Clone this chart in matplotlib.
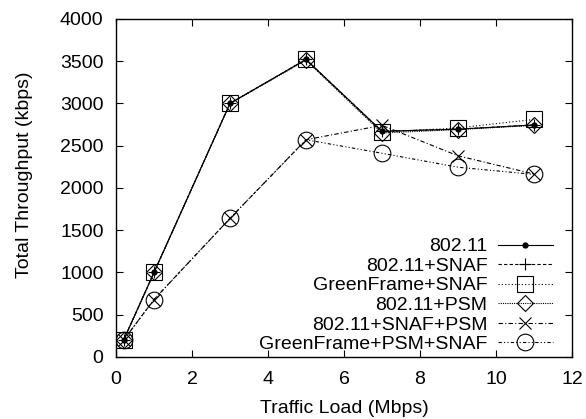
import numpy as np
import matplotlib
matplotlib.use('Agg')
import matplotlib.pyplot as plt

plt.rcParams['font.family'] = ['Liberation Sans', 'DejaVu Sans']
plt.rcParams['font.size'] = 14

# data
load = [0.2, 1, 3, 5, 7, 9, 11]
thr_80211 = [200, 1000, 3000, 3520, 2670, 2695, 2745]
thr_snaf = [200, 1000, 3000, 3520, 2670, 2695, 2745]
thr_gf_snaf = [200, 1000, 3000, 3520, 2660, 2710, 2810]
thr_psm = [200, 1000, 3000, 3510, 2650, 2690, 2740]
thr_snaf_psm = [200, 680, 1640, 2570, 2740, 2380, 2165]
thr_gf_psm_snaf = [200, 680, 1640, 2570, 2410, 2245, 2160]

labels = ['802.11', '802.11+SNAF', 'GreenFrame+SNAF', '802.11+PSM',
          '802.11+SNAF+PSM', 'GreenFrame+PSM+SNAF']

fig = plt.figure(figsize=(5.86, 4.19), dpi=100)
ax = fig.add_axes([0.198, 0.148, 0.778, 0.807])

lw = 0.8
ax.plot(load, thr_80211, color='black', lw=lw, ls='-', marker='o', ms=3.5,
        label=labels[0])
ax.plot(load, thr_snaf, color='black', lw=lw, ls=(0, (3, 2)), marker='+', ms=9,
        mew=0.8, label=labels[1])
ax.plot(load, thr_gf_snaf, color='black', lw=lw, ls=(0, (1, 2)), marker='s', ms=12,
        mfc='none', mew=0.8, label=labels[2])
ax.plot(load, thr_psm, color='black', lw=lw, ls=(0, (1, 1)), marker='D', ms=8,
        mfc='none', mew=0.8, label=labels[3])
ax.plot(load, thr_snaf_psm, color='black', lw=lw, ls=(0, (4, 2, 1, 2)), marker='x', ms=9,
        mew=0.8, label=labels[4])
ax.plot(load, thr_gf_psm_snaf, color='black', lw=lw, ls=(0, (3, 2, 1, 2, 1, 2)), marker='o',
        ms=12, mfc='none', mew=0.8, label=labels[5])

ax.set_xlim(0, 12)
ax.set_ylim(0, 4000)
ax.set_xticks(np.arange(0, 13, 2))
ax.set_yticks(np.arange(0, 4001, 500))
ax.tick_params(direction='in', top=True, right=True, length=5, width=0.8)
ax.tick_params(axis='x', pad=10)
ax.tick_params(axis='y', pad=9)
for s in ax.spines.values():
    s.set_linewidth(1.0)

ax.set_xlabel('Traffic Load (Mbps)')
ax.set_ylabel('Total Throughput (kbps)')
ax.xaxis.set_label_coords(0.5, -0.127)
ax.yaxis.set_label_coords(-0.182, 0.538)

ax.legend(loc='lower right', frameon=False, markerfirst=False, handlelength=2.8,
          handletextpad=0.55, labelspacing=0.1, borderaxespad=0.0, borderpad=0.2,
          bbox_to_anchor=(0.966, 0.0))

fig.savefig('out.png', dpi=100)
